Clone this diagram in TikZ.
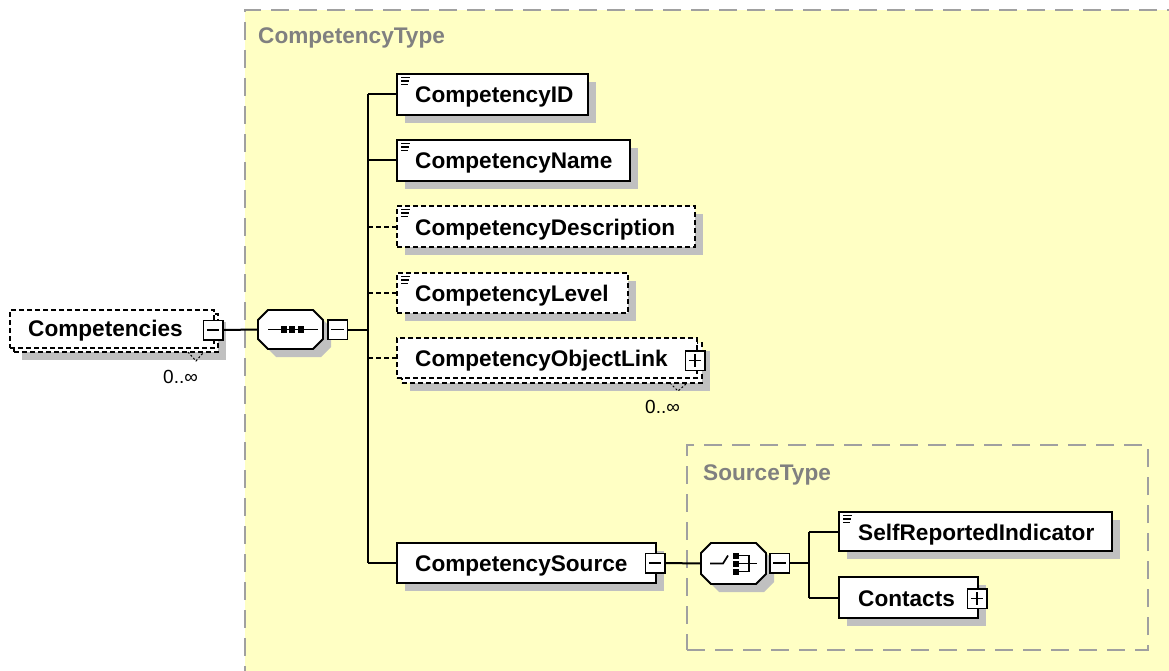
\documentclass[tikz,border=0pt]{standalone}
\usepackage{fontspec}
\setmainfont{Liberation Sans}
\usetikzlibrary{calc,shadows}
\definecolor{ybg}{RGB}{255,255,196}
\definecolor{framegray}{RGB}{160,160,160}
\definecolor{shadowgray}{RGB}{192,192,192}
\definecolor{typegray}{RGB}{128,128,128}
\newcommand\sicon[1]{\draw[line width=1.1pt] ($(#1.north west)+(4,3.5)$) -- +(9,0) ($(#1.north west)+(4,7)$) -- +(8,0) ($(#1.north west)+(4,10.5)$) -- +(7,0);}
\begin{document}
\begin{tikzpicture}[x=1pt,y=-1pt,
  typebox/.style={draw=framegray, fill=ybg, line width=2pt, dash pattern=on 18pt off 10pt, rectangle, inner sep=0pt, outer sep=0pt, anchor=north west},
  elem/.style={draw=black, fill=white, line width=1.9pt, rectangle, inner sep=0pt, outer sep=0pt, anchor=north west},
  opt/.style={elem, dash pattern=on 5pt off 3pt},
  shd/.style={drop shadow={shadow xshift=8pt, shadow yshift=-8pt, fill=shadowgray, opacity=1}},
  octanchor/.style={rectangle, draw=none, fill=none, inner sep=0pt, outer sep=0pt},
  octline/.style={draw=black, fill=white, line width=1.9pt},
  pmbox/.style={draw=black, fill=white, line width=1.5pt, rectangle, minimum size=19.5pt, inner sep=0pt, outer sep=0pt},
  minusbox/.style={pmbox, path picture={\draw[line width=1.5pt] ($(path picture bounding box.west)+(3.5,0)$) -- ($(path picture bounding box.east)+(-3.5,0)$);}},
  plusbox/.style={pmbox, path picture={\draw[line width=1.5pt] ($(path picture bounding box.west)+(3.5,0)$) -- ($(path picture bounding box.east)+(-3.5,0)$) ($(path picture bounding box.north)+(0,3.5)$) -- ($(path picture bounding box.south)+(0,-3.5)$);}},
  lbl/.style={anchor=base west, inner sep=0pt, font=\fontsize{22.6}{26}\selectfont\bfseries, text=black},
  typelbl/.style={anchor=base west, inner sep=0pt, font=\fontsize{22.6}{26}\selectfont\bfseries, text=typegray},
  mult/.style={anchor=base west, inner sep=0pt, font=\fontsize{19}{22}\selectfont, text=black},
  conn/.style={draw=black, line width=2pt},
  optconn/.style={conn, dash pattern=on 5pt off 3pt},
  notch/.style={draw=black, line width=1pt, dash pattern=on 2pt off 2pt}
]
\useasboundingbox (0,0) rectangle (1169,671);
\clip (0,0) rectangle (1169,671);
\fill[white] (0,0) rectangle (1169,671);

% type frames
\node[typebox, minimum width=960pt, minimum height=700pt] (ctype) at (245,10) {};
\node[typelbl] (ctypelbl) at (258,44) {CompetencyType};
\node[typebox, minimum width=461pt, minimum height=205pt] (stype) at (687,445) {};
\node[typelbl] (stypelbl) at (703,480) {SourceType};

% Competencies (stacked, optional, 0..inf)
\node[opt, shd, minimum width=204pt, minimum height=38pt] (compb) at (14,314) {};
\node[opt, minimum width=204pt, minimum height=38pt] (comp) at (10,310) {};
\node[lbl] (complbl) at (28,336) {Competencies};
\node[minusbox] (compm) at (213,330) {};
\draw[notch] (188,352) -- (196,361) -- (203,353);
\node[mult] (compmult) at (163,383) {0..∞};

% sequence compositor
\node[octanchor, minimum width=65pt, minimum height=39pt] (seq) at (290.5,329.5) {};
\begin{scope}[shift={(8,8)}]
  \fill[shadowgray] (258,320) -- (268,310) -- (313,310) -- (323,320) -- (323,339) -- (313,349) -- (268,349) -- (258,339) -- cycle;
\end{scope}
\path[octline] (258,320) -- (268,310) -- (313,310) -- (323,320) -- (323,339) -- (313,349) -- (268,349) -- (258,339) -- cycle;
\begin{scope}[shift={(seq.center)}]
  \draw[line width=1.8pt] (-22.5,0) -- (27.5,0);
  \fill (-10,-3.5) rectangle +(6,7);
  \fill (-1.5,-3.5) rectangle +(6,7);
  \fill (7,-3.5) rectangle +(6,7);
\end{scope}
\node[minusbox] (seqm) at (337.5,329.5) {};

% children
\node[elem, shd, minimum width=191pt, minimum height=41pt] (cid) at (397,74) {};
\sicon{cid}
\node[lbl] (cidlbl) at (415,103) {CompetencyID};

\node[elem, shd, minimum width=233pt, minimum height=41pt] (cname) at (397,140) {};
\sicon{cname}
\node[lbl] (cnamelbl) at (415,169) {CompetencyName};

\node[opt, shd, minimum width=298pt, minimum height=41pt] (cdesc) at (397,206) {};
\sicon{cdesc}
\node[lbl] (cdesclbl) at (415,235) {CompetencyDescription};

\node[opt, shd, minimum width=231pt, minimum height=40pt] (clevel) at (397,273) {};
\sicon{clevel}
\node[lbl] (clevellbl) at (415,301) {CompetencyLevel};

\node[opt, shd, minimum width=300pt, minimum height=40pt] (clinkb) at (402,343) {};
\node[opt, minimum width=300pt, minimum height=40pt] (clink) at (397,338) {};
\node[lbl] (clinklbl) at (415,366) {CompetencyObjectLink};
\node[plusbox] (clinkp) at (695,360.5) {};
\draw[notch] (670,383) -- (678,391) -- (686,384);
\node[mult] (clinkmult) at (645,413) {0..∞};

\node[elem, shd, minimum width=259pt, minimum height=40pt] (csrc) at (397,543) {};
\node[lbl] (csrclbl) at (415,571) {CompetencySource};
\node[minusbox] (csrcm) at (655,563) {};

% choice compositor
\node[octanchor, minimum width=65pt, minimum height=41pt] (choice) at (733.5,563.5) {};
\begin{scope}[shift={(8,8)}]
  \fill[shadowgray] (701,553) -- (711,543) -- (756,543) -- (766,553) -- (766,574) -- (756,584) -- (711,584) -- (701,574) -- cycle;
\end{scope}
\path[octline] (701,553) -- (711,543) -- (756,543) -- (766,553) -- (766,574) -- (756,584) -- (711,584) -- (701,574) -- cycle;
\begin{scope}[shift={(choice.center)}]
  \draw[line width=1.7pt] (-23.5,0) -- (-10.5,0) -- (-5.5,-8);
  \fill (-0.5,-11) rectangle +(6,6);
  \fill (-0.5,-3) rectangle +(6,6);
  \fill (-0.5,5) rectangle +(6,6);
  \draw[line width=1.6pt] (5.5,-8) -- (15.5,-8) -- (15.5,8) -- (5.5,8);
  \draw[line width=1.6pt] (5.5,0) -- (23.5,0);
\end{scope}
\node[minusbox] (choicem) at (779.5,563) {};

\node[elem, shd, minimum width=273pt, minimum height=39pt] (sri) at (839,512) {};
\sicon{sri}
\node[lbl] (srilbl) at (858,540) {SelfReportedIndicator};

\node[elem, shd, minimum width=139pt, minimum height=41pt] (cont) at (839,577) {};
\node[lbl] (contlbl) at (858,606) {Contacts};
\node[plusbox] (contp) at (977,598.5) {};

% connectors
\coordinate (bus) at (368,329.5);
\coordinate (bus2) at (809,563);
\draw[conn] (compm.east) -- (seq.west);
\draw[conn] (seqm.east) -- (bus);
\draw[conn] (bus |- cid.west) -- (bus |- csrc.west);
\draw[conn] (bus |- cid.west) -- (cid.west);
\draw[conn] (bus |- cname.west) -- (cname.west);
\draw[optconn] (bus |- cdesc.west) -- (cdesc.west);
\draw[optconn] (bus |- clevel.west) -- (clevel.west);
\draw[optconn] (bus |- clink.west) -- (clink.west);
\draw[conn] (bus |- csrc.west) -- (csrc.west);
\draw[conn] (csrcm.east) -- (choice.west);
\draw[conn] (choicem.east) -- (bus2);
\draw[conn] (bus2 |- sri.west) -- (bus2 |- cont.west);
\draw[conn] (bus2 |- sri.west) -- (sri.west);
\draw[conn] (bus2 |- cont.west) -- (cont.west);
\end{tikzpicture}
\end{document}
